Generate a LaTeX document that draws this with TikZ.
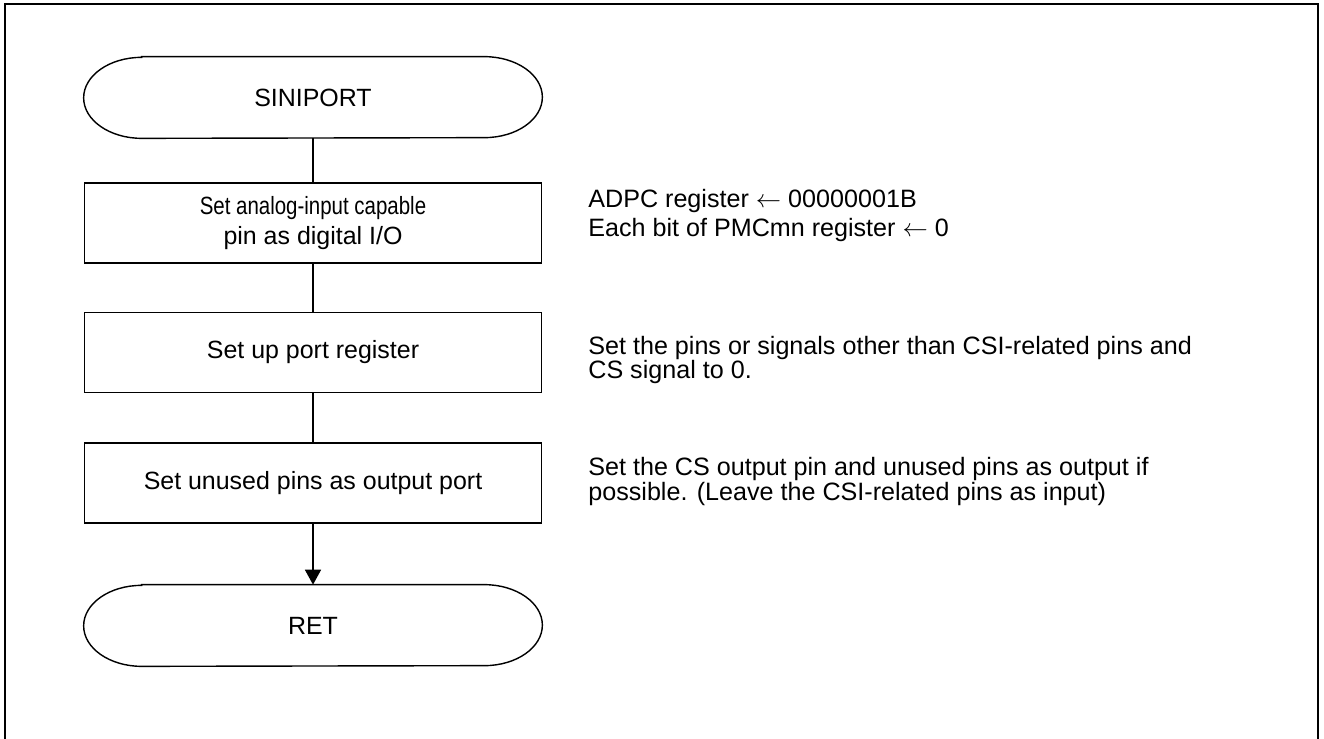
\documentclass[tikz,border=0pt]{standalone}
\usepackage{fontspec}
\setmainfont{Liberation Sans}
\usepackage{tikz}
\usetikzlibrary{arrows.meta}

\begin{document}
\begin{tikzpicture}[x=0.2mm,y=-0.2mm,
    >={Triangle[length=3mm,width=3.2mm]},
    proc/.style={draw,line width=1pt,minimum width=91.4mm,minimum height=16mm,inner sep=0pt,align=center,font=\fontsize{14.2pt}{17.5pt}\selectfont},
    term/.style={minimum width=91.6mm,minimum height=16.2mm,inner sep=0pt,font=\fontsize{14.2pt}{17pt}\selectfont},
    note/.style={anchor=base west,inner sep=0pt,align=left,font=\fontsize{14.3pt}{14pt}\selectfont}]
\useasboundingbox (0,0) rectangle (1324,739);
\draw[line width=1.3pt] (5,739) -- (5,4) -- (1318,4) -- (1318,739);

\node[term](start) at (313,97.5){SINIPORT};
\node[proc](init)  at (313,223){\scalebox{0.82}[1]{Set analog-input capable}\\pin as digital I/O};
\node[proc](port)  at (313,352.5){Set up port register};
\node[proc](unused) at (313,483){Set unused pins as output port};
\node[term](ret)   at (313,625.5){RET};

% terminal outlines
\foreach \t in {start,ret}
  \draw[line width=0.8pt] ([xshift=11.6mm]\t.north west) -- ([xshift=-11.6mm]\t.north east)
    arc[start angle=90,end angle=-90,x radius=11.6mm,y radius=8.1mm]
    -- ([xshift=11.6mm]\t.south west)
    arc[start angle=270,end angle=90,x radius=11.6mm,y radius=8.1mm] -- cycle;

% notes, placed at the baseline of their last line
\node[note,font=\fontsize{14.3pt}{17pt}\selectfont](n1) at (588,237){ADPC register $\leftarrow$ 00000001B\\Each bit of PMCmn register $\leftarrow$ 0};
\node[note](n2) at (588,379){Set the pins or signals other than CSI-related pins and\\CS signal to 0.};
\node[note](n3) at (588,500){Set the CS output pin and unused pins as output if\\possible. (Leave the CSI-related pins as input)};

\draw[line width=1pt] (start) -- (init);
\draw[line width=1pt] (init) -- (port);
\draw[line width=1pt] (port) -- (unused);
\draw[->,line width=1pt] (unused) -- (ret);
\end{tikzpicture}
\end{document}
